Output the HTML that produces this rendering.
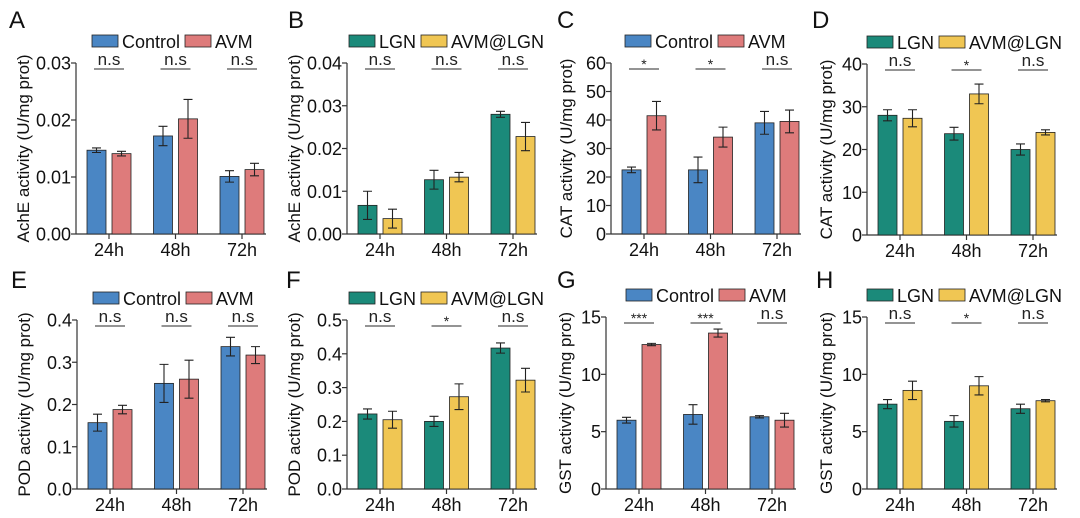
<!DOCTYPE html>
<html><head><meta charset="utf-8"><style>
html,body{margin:0;padding:0;background:#fff;}
svg{display:block;font-family:"Liberation Sans",Arial,sans-serif;}
</style></head><body>
<svg id="fig" width="1080" height="518" viewBox="0 0 1080 518" xmlns="http://www.w3.org/2000/svg"></svg>
<script>
const groups = ["24h","48h","72h"];
const aCtrl = [0.0147,0.0172,0.0101], aCtrlErr = [0.0004,0.0017,0.001];
const aAvm = [0.0141,0.0202,0.0113], aAvmErr = [0.0004,0.0034,0.0011];
const bLgn = [0.0067,0.0127,0.028], bLgnErr = [0.0033,0.0022,0.0007];
const bAl = [0.0036,0.0133,0.0228], bAlErr = [0.0022,0.0011,0.0033];
const cCtrl = [22.5,22.5,39], cCtrlErr = [1,4.5,4];
const cAvm = [41.5,34,39.5], cAvmErr = [5,3.5,4];
const dLgn = [28,23.7,20], dLgnErr = [1.3,1.5,1.3];
const dAl = [27.3,33,24], dAlErr = [2,2.3,0.6];
const eCtrl = [0.157,0.25,0.337], eCtrlErr = [0.02,0.045,0.022];
const eAvm = [0.188,0.26,0.317], eAvmErr = [0.01,0.045,0.02];
const fLgn = [0.222,0.2,0.417], fLgnErr = [0.015,0.015,0.015];
const fAl = [0.205,0.273,0.322], fAlErr = [0.025,0.038,0.035];
const gCtrl = [6,6.5,6.3], gCtrlErr = [0.25,0.85,0.1];
const gAvm = [12.6,13.6,6], gAvmErr = [0.1,0.35,0.6];
const hLgn = [7.4,5.9,7], hLgnErr = [0.4,0.5,0.4];
const hAl = [8.6,9,7.7], hAlErr = [0.8,0.8,0.1];
const ticksA = [0,0.01,0.02,0.03], ticksAL = ["0.00","0.01","0.02","0.03"];
const ticksB = [0,0.01,0.02,0.03,0.04], ticksBL = ["0.00","0.01","0.02","0.03","0.04"];
const ticksC = [0,10,20,30,40,50,60], ticksCL = ["0","10","20","30","40","50","60"];
const ticksD = [0,10,20,30,40], ticksDL = ["0","10","20","30","40"];
const ticksE = [0,0.1,0.2,0.3,0.4], ticksEL = ["0.0","0.1","0.2","0.3","0.4"];
const ticksF = [0,0.1,0.2,0.3,0.4,0.5], ticksFL = ["0.0","0.1","0.2","0.3","0.4","0.5"];
const ticksG = [0,5,10,15], ticksGL = ["0","5","10","15"];
const sigA = ["n.s","n.s","n.s"], sigB = ["n.s","n.s","n.s"], sigC = ["*","*","n.s"], sigD = ["n.s","*","n.s"];
const sigE = ["n.s","n.s","n.s"], sigF = ["n.s","*","n.s"], sigG = ["***","***","n.s"], sigH = ["n.s","*","n.s"];

const NS = "http://www.w3.org/2000/svg";
const svg = document.getElementById("fig");
function mk(tag, attrs, parent, text){
  const e = document.createElementNS(NS, tag);
  for (const k in attrs) e.setAttribute(k, attrs[k]);
  if (text !== undefined) e.textContent = text;
  (parent || svg).appendChild(e);
  return e;
}
const BLUE="#4a86c4", RED="#de7b7b", TEAL="#1b8a7a", YEL="#f0c653";
const panels = [
 {L:"A",lx:9,ly:28,ox:76,top:63,bot:234,max:0.03,t:ticksA,tl:ticksAL,s1:aCtrl,e1:aCtrlErr,s2:aAvm,e2:aAvmErr,c:[BLUE,RED],n:["Control","AVM"],sig:sigA,yl:"AchE activity (U/mg prot)",tx:47,lg:16},
 {L:"B",lx:288,ly:28,ox:347,top:63,bot:234,max:0.04,t:ticksB,tl:ticksBL,s1:bLgn,e1:bLgnErr,s2:bAl,e2:bAlErr,c:[TEAL,YEL],n:["LGN","AVM@LGN"],sig:sigB,yl:"AchE activity (U/mg prot)",tx:47,lg:2},
 {L:"C",lx:557,ly:28,ox:611,top:63,bot:234,max:60,t:ticksC,tl:ticksCL,s1:cCtrl,e1:cCtrlErr,s2:cAvm,e2:cAvmErr,c:[BLUE,RED],n:["Control","AVM"],sig:sigC,yl:"CAT activity (U/mg prot)",tx:39,lg:14},
 {L:"D",lx:812,ly:28,ox:867,top:64,bot:235,max:40,t:ticksD,tl:ticksDL,s1:dLgn,e1:dLgnErr,s2:dAl,e2:dAlErr,c:[TEAL,YEL],n:["LGN","AVM@LGN"],sig:sigD,yl:"CAT activity (U/mg prot)",tx:35,lg:0},
 {L:"E",lx:11,ly:288,ox:77,top:320,bot:489,max:0.4,t:ticksE,tl:ticksEL,s1:eCtrl,e1:eCtrlErr,s2:eAvm,e2:eAvmErr,c:[BLUE,RED],n:["Control","AVM"],sig:sigE,yl:"POD activity (U/mg prot)",tx:47,lg:16},
 {L:"F",lx:286,ly:288,ox:347,top:320,bot:489,max:0.5,t:ticksF,tl:ticksFL,s1:fLgn,e1:fLgnErr,s2:fAl,e2:fAlErr,c:[TEAL,YEL],n:["LGN","AVM@LGN"],sig:sigF,yl:"POD activity (U/mg prot)",tx:47,lg:2},
 {L:"G",lx:557,ly:288,ox:606,top:317,bot:489,max:15,t:ticksG,tl:ticksGL,s1:gCtrl,e1:gCtrlErr,s2:gAvm,e2:gAvmErr,c:[BLUE,RED],n:["Control","AVM"],sig:sigG,yl:"GST activity (U/mg prot)",tx:35,lg:20},
 {L:"H",lx:816,ly:288,ox:867,top:317,bot:489,max:15,t:ticksG,tl:ticksGL,s1:hLgn,e1:hLgnErr,s2:hAl,e2:hAlErr,c:[TEAL,YEL],n:["LGN","AVM@LGN"],sig:sigH,yl:"GST activity (U/mg prot)",tx:35,lg:0}
];
panels.forEach(p=>{
  const g = mk("g",{});
  
  
  const y = v => p.bot - v / p.max * (p.bot - p.top);
  const gx = i => p.ox + 33 + i * 66.5;
  const lt = mk("text",{x:p.lx,y:p.ly,"font-size":24,fill:"#111"},g,p.L);
  
  
  const ax = mk("line",{x1:p.ox,y1:p.top,x2:p.ox,y2:p.bot,stroke:"#333","stroke-width":1.2},g);
  
  
  const xa = mk("line",{x1:p.ox,y1:p.bot,x2:p.ox+190,y2:p.bot,stroke:"#333","stroke-width":1.2},g);
  
  
  p.t.forEach((v,i)=>{
    mk("line",{x1:p.ox-5,y1:y(v),x2:p.ox,y2:y(v),stroke:"#333","stroke-width":1.2},g);
    const tt = mk("text",{x:p.ox-5,y:y(v)+6.5,"font-size":18,"text-anchor":"end",fill:"#111"},g,p.tl[i]);
    
    
  });
  const yl = mk("text",{x:0,y:0,"font-size":17,"text-anchor":"middle",fill:"#111",transform:`translate(${p.ox-p.tx},${(p.top+p.bot)/2}) rotate(-90)`},g,p.yl);
  
  
  groups.forEach((lab,i)=>{
    const cx = gx(i);
    mk("line",{x1:cx,y1:p.bot,x2:cx,y2:p.bot+5,stroke:"#333","stroke-width":1.2},g);
    const xt = mk("text",{x:cx,y:p.bot+22,"font-size":18,"text-anchor":"middle",fill:"#111"},g,lab);
    
    
    [[p.s1,p.e1,p.c[0],cx-22],[p.s2,p.e2,p.c[1],cx+3]].forEach(([s,e,col,bx],k)=>{
      const r = mk("rect",{x:bx,y:y(s[i]),width:19,height:p.bot-y(s[i]),fill:col,stroke:"#222","stroke-width":0.8},g);
      
      
      const mx = bx+9.5, yh = y(s[i]+e[i]), ylo = y(s[i]-e[i]);
      const eb = mk("path",{d:`M${mx},${yh}V${ylo}M${mx-4.5},${yh}H${mx+4.5}M${mx-4.5},${ylo}H${mx+4.5}`,stroke:"#222","stroke-width":1.1,fill:"none"},g);
      
      
    });
    const ns = p.sig[i]==="n.s";
    const st = mk("text",{x:cx,y:ns?p.top+2:p.top+6,"font-size":ns?17:14,"text-anchor":"middle",fill:"#222"},g,p.sig[i]);
    
    
    mk("line",{x1:cx-15,y1:p.top+6,x2:cx+15,y2:p.top+6,stroke:"#555","stroke-width":1.2},g);
  });
  const lx = p.ox+p.lg, ly = p.top-28;
  const l1 = mk("rect",{x:lx,y:ly,width:26,height:12,fill:p.c[0],stroke:"#222","stroke-width":0.8},g);
  
  
  const t1 = mk("text",{x:lx+30,y:ly+13,"font-size":18,fill:"#111"},g,p.n[0]);
  
  
  const off = p.n[0]==="Control" ? 93 : 72;
  const l2 = mk("rect",{x:lx+off,y:ly,width:26,height:12,fill:p.c[1],stroke:"#222","stroke-width":0.8},g);
  
  
  const t2 = mk("text",{x:lx+off+30,y:ly+13,"font-size":18,fill:"#111"},g,p.n[1]);
  
  
});
</script>
</body></html>
